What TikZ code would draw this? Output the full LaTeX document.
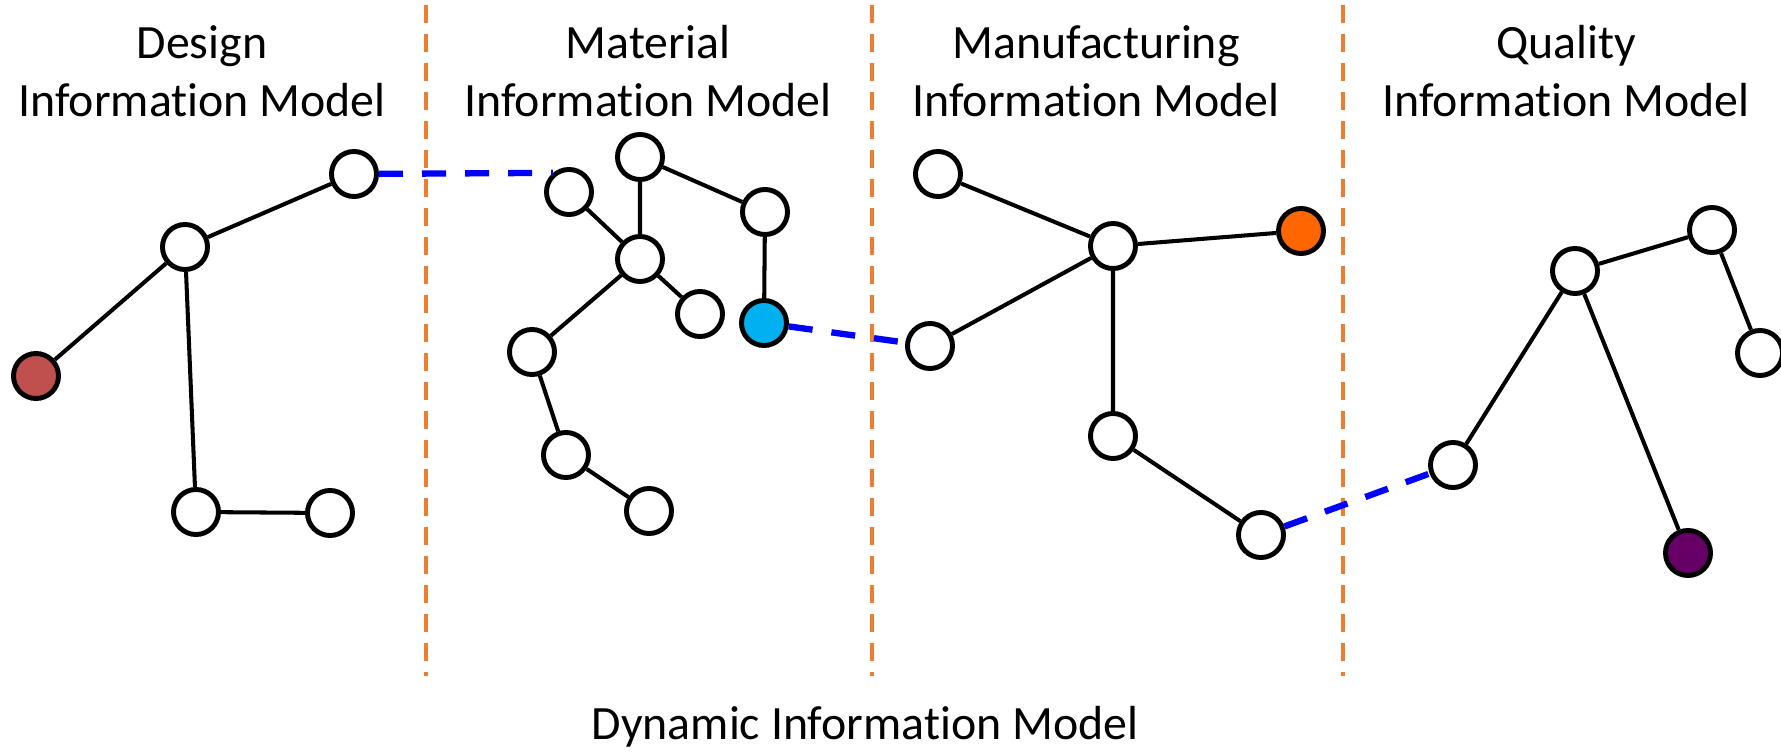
\documentclass[tikz,border=0pt]{standalone}
\usepackage{fontspec}
\setmainfont{Carlito}[Ligatures=NoCommon]
\usepackage{tikz}

\definecolor{designred}{RGB}{192,80,77}
\definecolor{materialcyan}{RGB}{0,176,240}
\definecolor{manuforange}{RGB}{255,102,0}
\definecolor{qualitypurple}{RGB}{102,0,102}
\definecolor{splitorange}{RGB}{237,125,49}
\definecolor{linkblue}{RGB}{0,0,255}

\tikzset{
    info/.style={circle, draw=black, line width=1.4pt, fill=white, minimum size=0.45cm, inner sep=0pt},
    tie/.style={line width=1.15pt},
    link/.style={draw=linkblue, line width=1.8pt, dash pattern=on 0.24cm off 0.19cm},
    split/.style={draw=splitorange, line width=1.2pt, dash pattern=on 0.175cm off 0.115cm},
    title/.style={align=center, anchor=base, font=\fontsize{13.6}{16.5}\selectfont}
}

\begin{document}
\begin{tikzpicture}[x=0.01cm, y=-0.01cm]
    \useasboundingbox (0,0) rectangle (1781,752);

    % Draw dashed lines between the models
    \foreach \x in {426,872,1343}
        \draw[split] (\x,5) -- (\x,676);

    % Add model titles
    \node[title] (tdesign) at (202,117) {Design\\Information Model};
    \node[title] (tmaterial) at (648,117) {Material\\Information Model};
    \node[title] (tmanuf) at (1096,117) {Manufacturing\\Information Model};
    \node[title] (tquality) at (1566,117) {Quality\\Information Model};
    \node[title] (tdynamic) at (865,739) {Dynamic Information Model};

    % Design model
    \node[info] (d1) at (354,174) {};
    \node[info] (d2) at (185,247) {};
    \node[info, fill=designred] (d3) at (36,376) {};
    \node[info] (d4) at (196,512) {};
    \node[info] (d5) at (330,513) {};
    \draw[tie] (d1) -- (d2) -- (d3);
    \draw[tie] (d2) -- (d4) -- (d5);

    % Material model
    \node[info] (m1) at (569,192) {};
    \node[info] (m2) at (640,157) {};
    \node[info] (m3) at (640,259) {};
    \node[info] (m4) at (765,212) {};
    \node[info] (m5) at (700,314) {};
    \node[info, fill=materialcyan] (m6) at (764,323) {};
    \node[info] (m7) at (532,352) {};
    \node[info] (m8) at (566,455) {};
    \node[info] (m9) at (649,511) {};
    \draw[tie] (m1) -- (m3) -- (m2) -- (m4) -- (m6);
    \draw[tie] (m5) -- (m3) -- (m7) -- (m8) -- (m9);

    % Manufacturing model
    \node[info] (f1) at (938,174) {};
    \node[info] (f2) at (1113,246) {};
    \node[info, fill=manuforange] (f3) at (1301,231) {};
    \node[info] (f4) at (930,346) {};
    \node[info] (f5) at (1113,436) {};
    \node[info] (f6) at (1261,535) {};
    \draw[tie] (f1) -- (f2) -- (f3);
    \draw[tie] (f4) -- (f2) -- (f5) -- (f6);

    % Quality model
    \node[info] (q1) at (1575,271) {};
    \node[info] (q2) at (1712,230) {};
    \node[info] (q3) at (1760,353) {};
    \node[info] (q4) at (1453,465) {};
    \node[info, fill=qualitypurple] (q5) at (1688,553) {};
    \draw[tie] (q4) -- (q1) -- (q2) -- (q3);
    \draw[tie] (q1) -- (q5);

    % Links between the models
    \draw[link] (d1) -- (m1.130);
    \draw[link] (m6) -- (f4);
    \draw[link] (f6) -- (q4);

\end{tikzpicture}
\end{document}
